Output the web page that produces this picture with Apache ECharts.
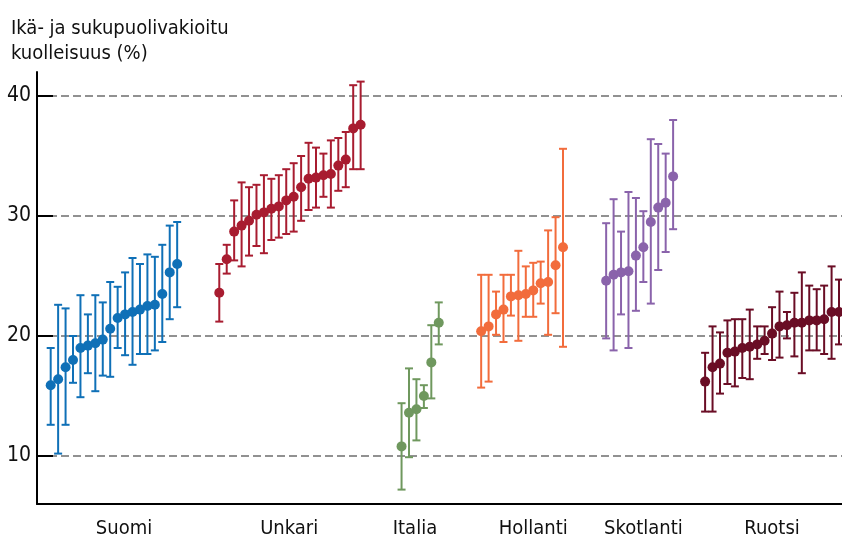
<!DOCTYPE html>
<html><head><meta charset="utf-8">
<script src="https://cdn.jsdelivr.net/npm/echarts@6/dist/echarts.min.js"></script>
<style>html,body{margin:0;padding:0;background:#fff}#c{width:842px;height:540px}</style>
</head><body><div id="c"></div>
<script>
// ---- data ----
const countries = ['Suomi', 'Unkari', 'Italia', 'Hollanti', 'Skotlanti', 'Ruotsi'];
const yTicks = [10, 20, 30, 40];

const suomiMean = [15.9, 16.4, 17.4, 18.0, 19.0, 19.2, 19.4, 19.7, 20.6, 21.5, 21.8, 22.0, 22.2, 22.5, 22.6, 23.5, 25.3, 26.0];
const suomiLow  = [12.6, 10.2, 12.6, 16.1, 14.9, 16.9, 15.4, 16.7, 16.6, 19.0, 18.4, 17.6, 18.5, 18.5, 18.8, 19.5, 21.4, 22.4];
const suomiHigh = [19.0, 22.6, 22.3, 20.0, 23.4, 21.8, 23.4, 22.8, 24.5, 24.1, 25.3, 26.5, 26.0, 26.8, 26.6, 27.6, 29.2, 29.5];

const unkariMean = [23.6, 26.4, 28.7, 29.2, 29.6, 30.1, 30.3, 30.6, 30.8, 31.3, 31.6, 32.4, 33.1, 33.2, 33.4, 33.5, 34.2, 34.7, 37.3, 37.6];
const unkariLow  = [21.2, 25.2, 26.3, 25.8, 26.7, 27.5, 26.9, 28.0, 28.2, 28.5, 28.7, 29.6, 30.5, 30.7, 31.6, 30.7, 32.1, 32.4, 33.9, 33.9];
const unkariHigh = [26.0, 27.6, 31.3, 32.8, 32.4, 32.6, 33.4, 33.1, 33.4, 33.9, 34.4, 35.0, 36.1, 35.7, 35.2, 36.3, 36.5, 37.0, 40.9, 41.2];

const italiaMean = [10.8, 13.6, 13.9, 15.0, 17.8, 21.1];
const italiaLow  = [7.2, 9.9, 11.3, 14.0, 14.8, 19.3];
const italiaHigh = [14.4, 17.3, 16.4, 15.9, 20.9, 22.8];

const hollantiMean = [20.4, 20.8, 21.8, 22.2, 23.3, 23.4, 23.5, 23.8, 24.4, 24.5, 25.9, 27.4];
const hollantiLow  = [15.7, 16.2, 20.1, 19.5, 21.7, 19.6, 21.6, 21.6, 22.7, 20.1, 21.9, 19.1];
const hollantiHigh = [25.1, 25.1, 23.7, 25.1, 25.1, 27.1, 25.8, 26.1, 26.2, 28.8, 29.9, 35.6];

const skotlantiMean = [24.6, 25.1, 25.3, 25.4, 26.7, 27.4, 29.5, 30.7, 31.1, 33.3];
const skotlantiLow  = [19.8, 18.8, 21.8, 19.0, 22.1, 24.5, 22.7, 25.5, 27.0, 28.9];
const skotlantiHigh = [29.4, 31.4, 28.7, 32.0, 31.5, 30.4, 36.4, 36.0, 35.2, 38.0];

const ruotsiMean = [16.2, 17.4, 17.7, 18.6, 18.7, 19.0, 19.1, 19.3, 19.6, 20.2, 20.8, 20.9, 21.1, 21.1, 21.3, 21.3, 21.4, 22.0, 22.0];
const ruotsiLow  = [13.7, 13.7, 15.2, 16.0, 15.8, 16.5, 16.4, 18.1, 18.5, 18.0, 18.2, 19.8, 18.3, 16.9, 18.8, 18.8, 18.5, 18.1, 19.3];
const ruotsiHigh = [18.6, 20.8, 20.3, 21.3, 21.4, 21.4, 22.2, 20.8, 20.8, 22.4, 23.7, 22.0, 23.6, 25.3, 24.2, 23.9, 24.2, 25.8, 24.7];

// ---- layout / style ----
const groups = [
  { mean: suomiMean, low: suomiLow, high: suomiHigh },
  { mean: unkariMean, low: unkariLow, high: unkariHigh },
  { mean: italiaMean, low: italiaLow, high: italiaHigh },
  { mean: hollantiMean, low: hollantiLow, high: hollantiHigh },
  { mean: skotlantiMean, low: skotlantiLow, high: skotlantiHigh },
  { mean: ruotsiMean, low: ruotsiLow, high: ruotsiHigh }
];
const groupStart = [1.84, 24.5, 49, 59.7, 76.5, 89.8];
const labelPos = [11.7, 33.9, 50.8, 66.7, 81.5, 98.8];
const colors = ['#0f70b7', '#a81c30', '#6f985e', '#f26c3c', '#8a63ab', '#6a0d25'];
const FONT = '"DejaVu Sans Condensed", "Liberation Sans Narrow", sans-serif';

const series = [];
groups.forEach((g, gi) => {
  const col = colors[gi];
  const barData = g.mean.map((m, i) => [groupStart[gi] + i, g.low[i], g.high[i]]);
  const dotData = g.mean.map((m, i) => [groupStart[gi] + i, m]);
  series.push({
    type: 'custom',
    name: countries[gi] + ' CI',
    encode: { x: 0, y: [1, 2] },
    data: barData,
    z: 2,
    renderItem: function (params, api) {
      const x = api.value(0);
      const lo = api.coord([x, api.value(1)]);
      const hi = api.coord([x, api.value(2)]);
      const hw = 4;
      const st = { stroke: col, lineWidth: 2 };
      return {
        type: 'group',
        children: [
          { type: 'line', shape: { x1: lo[0], y1: lo[1], x2: hi[0], y2: hi[1] }, style: st },
          { type: 'line', shape: { x1: lo[0] - hw, y1: lo[1], x2: lo[0] + hw, y2: lo[1] }, style: st },
          { type: 'line', shape: { x1: hi[0] - hw, y1: hi[1], x2: hi[0] + hw, y2: hi[1] }, style: st }
        ]
      };
    }
  });
  series.push({
    type: 'scatter',
    name: countries[gi],
    data: dotData,
    symbol: 'circle',
    symbolSize: 10,
    itemStyle: { color: col, opacity: 1 },
    z: 3,
    clip: false
  });
});

const chart = echarts.init(document.getElementById('c'), null, { renderer: 'canvas' });
chart.setOption({
  animation: false,
  backgroundColor: '#ffffff',
  title: {
    text: 'Ikä- ja sukupuolivakioitu\nkuolleisuus (%)',
    left: 6, top: 11,
    textStyle: { fontFamily: FONT, fontSize: 20, fontWeight: 'normal', color: '#111', lineHeight: 25 }
  },
  grid: { left: 37, right: 0, top: 72, bottom: 36, containLabel: false },
  xAxis: {
    type: 'value', min: 0, max: 108.2,
    axisLine: { show: true, lineStyle: { color: '#000', width: 2 } },
    axisTick: { show: false },
    splitLine: { show: false },
    axisLabel: {
      customValues: labelPos,
      formatter: function (v) {
        const idx = labelPos.findIndex(p => Math.abs(p - v) < 1e-6);
        return idx >= 0 ? countries[idx] : '';
      },
      margin: 15,
      fontFamily: FONT, fontSize: 20, color: '#111'
    }
  },
  yAxis: {
    type: 'value', min: 6, max: 42,
    axisLine: { show: true, lineStyle: { color: '#000', width: 2 } },
    axisTick: { show: true, inside: true, length: 16, customValues: yTicks, lineStyle: { color: '#000', width: 2 } },
    axisLabel: { customValues: yTicks, margin: 6, fontFamily: FONT, fontSize: 21, color: '#111' },
    splitLine: { show: true, lineStyle: { color: '#6e6e6e', width: 1.5, type: [8, 4] } }
  },
  series: series
});
</script>
</body></html>
